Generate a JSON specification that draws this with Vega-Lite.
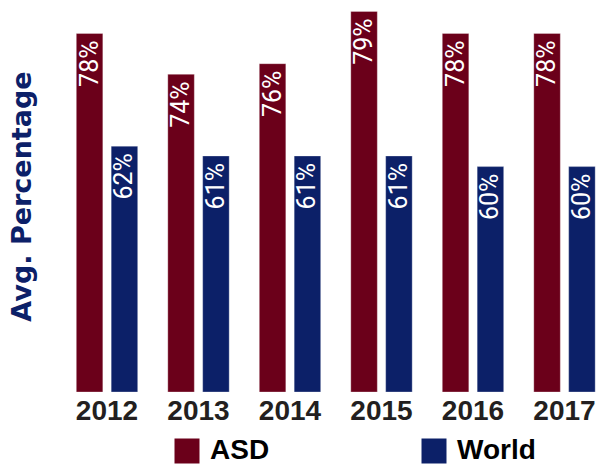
{
  "$schema": "https://vega.github.io/schema/vega-lite/v6.json",
  "autosize": "none",
  "width": 537,
  "height": 392,
  "padding": {"left": 60, "top": 0, "right": 0, "bottom": 72},
  "background": "white",
  "config": {"view": {"stroke": null}},
  "data": {
    "values": [
      {"year": "2012", "series": "ASD", "value": 75.9, "label": "78%"},
      {"year": "2012", "series": "World", "value": 62.1, "label": "62%"},
      {"year": "2013", "series": "ASD", "value": 70.9, "label": "74%"},
      {"year": "2013", "series": "World", "value": 60.9, "label": "61%"},
      {"year": "2014", "series": "ASD", "value": 72.2, "label": "76%"},
      {"year": "2014", "series": "World", "value": 60.9, "label": "61%"},
      {"year": "2015", "series": "ASD", "value": 78.6, "label": "79%"},
      {"year": "2015", "series": "World", "value": 60.9, "label": "61%"},
      {"year": "2016", "series": "ASD", "value": 75.9, "label": "78%"},
      {"year": "2016", "series": "World", "value": 59.6, "label": "60%"},
      {"year": "2017", "series": "ASD", "value": 75.9, "label": "78%"},
      {"year": "2017", "series": "World", "value": 59.6, "label": "60%"}
    ]
  },
  "encoding": {
    "x": {
      "field": "year",
      "type": "nominal",
      "scale": {"paddingInner": 0.329, "paddingOuter": 0.099, "align": 0.9},
      "axis": {
        "title": null,
        "domain": false,
        "ticks": false,
        "labelAngle": 0,
        "labelFont": "Liberation Sans",
        "labelFontWeight": "bold",
        "labelFontSize": 28,
        "labelColor": "#231F20",
        "labelPadding": 5
      }
    },
    "xOffset": {
      "field": "series",
      "type": "nominal",
      "scale": {"paddingInner": 0.24, "paddingOuter": 0}
    },
    "y": {
      "field": "value",
      "type": "quantitative",
      "scale": {"domain": [32, 80], "zero": false, "nice": false},
      "axis": {
        "title": "Avg. Percentage",
        "labels": false,
        "ticks": false,
        "domain": false,
        "grid": false,
        "titleFont": "DejaVu Sans",
        "titleFontWeight": "bold",
        "titleFontSize": 27,
        "titleColor": "#0C2068",
        "titleAngle": -90,
        "titleX": -38,
        "titleY": 196,
        "titleAlign": "center",
        "titleBaseline": "middle"
      }
    }
  },
  "layer": [
    {
      "mark": {"type": "bar", "stroke": "#ffffff", "strokeOpacity": 0.3, "strokeWidth": 1},
      "encoding": {
        "y2": {"datum": 32},
        "color": {
          "field": "series",
          "type": "nominal",
          "scale": {"domain": ["ASD", "World"], "range": ["#6B001A", "#0C2068"]},
          "legend": {
            "title": null,
            "orient": "none",
            "legendX": 113,
            "legendY": 437,
            "direction": "horizontal",
            "symbolType": "square",
            "symbolSize": 625,
            "symbolStrokeWidth": 0,
            "symbolOpacity": 1,
            "labelFont": "Liberation Sans",
            "labelFontWeight": "bold",
            "labelFontSize": 28,
            "labelOffset": 9,
            "columnPadding": 150,
            "encode": {
              "labels": {
                "update": {
                  "fill": {"signal": "datum.value === 'ASD' ? '#6B001A' : '#0C2068'"}
                }
              }
            }
          }
        }
      }
    },
    {
      "mark": {
        "type": "text",
        "angle": -90,
        "align": "right",
        "baseline": "middle",
        "dx": -7,
        "color": "white",
        "font": "Roboto",
        "fontSize": 25
      },
      "encoding": {
        "text": {"field": "label", "type": "nominal"}
      }
    }
  ]
}
